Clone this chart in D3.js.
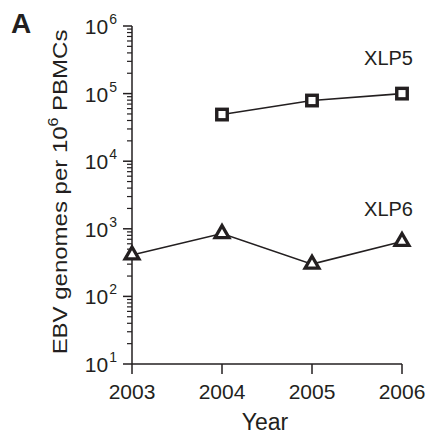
<!DOCTYPE html>
<html>
<head>
<meta charset="utf-8">
<script src="https://cdn.jsdelivr.net/npm/d3@7"></script>
<style>
  body { margin: 0; background: #fff; }
  text { font-family: "Liberation Sans", Arial, sans-serif; fill: #231f20; }
</style>
</head>
<body>
<div id="chart"></div>
<script>
// data
let years = [2003, 2004, 2005, 2006];
let xlp5Years = [2004, 2005, 2006];
let xlp5Values = [49000, 79000, 100000];
let xlp6Years = [2003, 2004, 2005, 2006];
let xlp6Values = [410, 850, 300, 650];
let yDecades = [1, 2, 3, 4, 5, 6];

let width = 427, height = 437;
let margin = {"top": 26, "bottom": 73, "left": 132, "right": 25};
let ink = "#231f20";

let svg = d3.select("#chart").append("svg")
    .attr("width", width)
    .attr("height", height);

let x = d3.scaleLinear().domain([2003, 2006]).range([margin.left, width - margin.right]);
let y = d3.scaleLog().domain([10, 1e6]).range([height - margin.bottom, margin.top]);

// y axis - minor ticks for 2..9 in each decade
let minor = [];
for (let d = 1; d < 6; d++) {
    for (let m = 2; m <= 9; m++) minor.push(m * Math.pow(10, d));
}
let yAxis = svg.append("g");
yAxis.append("line")
    .attr("x1", margin.left).attr("x2", margin.left)
    .attr("y1", y(1e6)).attr("y2", y(10))
    .attr("stroke", ink).attr("stroke-width", 1.5);
yAxis.selectAll(".minor").data(minor).enter().append("line")
    .attr("x1", margin.left - 5).attr("x2", margin.left)
    .attr("y1", d => y(d)).attr("y2", d => y(d))
    .attr("stroke", ink).attr("stroke-width", 1.2);
yAxis.selectAll(".major").data(yDecades).enter().append("line")
    .attr("x1", margin.left - 9).attr("x2", margin.left)
    .attr("y1", d => y(Math.pow(10, d))).attr("y2", d => y(Math.pow(10, d)))
    .attr("stroke", ink).attr("stroke-width", 1.5);

let yLabels = yAxis.selectAll(".ylab").data(yDecades).enter().append("text")
    .attr("x", 117)
    .attr("y", d => y(Math.pow(10, d)) + 8)
    .attr("text-anchor", "end")
    .style("font-size", "21px");
yLabels.append("tspan").text("10");
yLabels.append("tspan")
    .attr("dx", 1).attr("dy", -10)
    .style("font-size", "14px")
    .text(d => d);

// x axis
let xAxis = svg.append("g")
    .attr("transform", "translate(0," + y(10) + ")");
xAxis.append("line")
    .attr("x1", margin.left).attr("x2", x(2006))
    .attr("stroke", ink).attr("stroke-width", 1.5);
xAxis.selectAll(".xt").data(years).enter().append("line")
    .attr("x1", d => x(d)).attr("x2", d => x(d))
    .attr("y1", 0).attr("y2", 10)
    .attr("stroke", ink).attr("stroke-width", 1.5);
xAxis.selectAll(".xlab").data(years).enter().append("text")
    .attr("x", d => x(d))
    .attr("y", 35)
    .attr("text-anchor", "middle")
    .style("font-size", "21px")
    .text(d => d);

svg.append("text")
    .attr("x", 265)
    .attr("y", 430)
    .attr("text-anchor", "middle")
    .style("font-size", "23px")
    .text("Year");

// y axis title, stretched to the span it has in the figure
let yTitle = svg.append("text")
    .attr("text-anchor", "middle")
    .style("font-size", "21px");
yTitle.append("tspan").text("EBV genomes per 10");
yTitle.append("tspan").attr("dy", -9).style("font-size", "14px").text("6");
yTitle.append("tspan").attr("dy", 9).text(" PBMCs");
let titleLen = yTitle.node().getComputedTextLength();
let stretch = 325 / titleLen;
yTitle.attr("transform", "translate(67,192) rotate(-90) scale(" + stretch + ",1)");

svg.append("text")
    .attr("x", 11).attr("y", 33)
    .style("font-size", "28px")
    .style("font-weight", "bold")
    .text("A");

// series
let line = d3.line().x(d => x(d[0])).y(d => y(d[1]));
let xlp5 = xlp5Years.map((yr, i) => [yr, xlp5Values[i]]);
let xlp6 = xlp6Years.map((yr, i) => [yr, xlp6Values[i]]);

svg.append("path").datum(xlp5).attr("d", line)
    .attr("fill", "none").attr("stroke", ink).attr("stroke-width", 1.6);
svg.append("path").datum(xlp6).attr("d", line)
    .attr("fill", "none").attr("stroke", ink).attr("stroke-width", 1.6);

svg.selectAll(".sq").data(xlp5).enter().append("rect")
    .attr("x", d => x(d[0]) - 5.25)
    .attr("y", d => y(d[1]) - 5.25)
    .attr("width", 10.5).attr("height", 10.5)
    .attr("fill", "#fff").attr("stroke", ink).attr("stroke-width", 3.4);

let tri = d3.symbol().type(d3.symbolTriangle).size(82);
svg.selectAll(".tri").data(xlp6).enter().append("path")
    .attr("d", tri)
    .attr("transform", d => "translate(" + x(d[0]) + "," + y(d[1]) + ")")
    .attr("fill", "#fff").attr("stroke", ink).attr("stroke-width", 3.3)
    .attr("stroke-linejoin", "miter");

// series labels
svg.append("text").attr("x", 413).attr("y", 65)
    .attr("text-anchor", "end").style("font-size", "20px").text("XLP5");
svg.append("text").attr("x", 413).attr("y", 216)
    .attr("text-anchor", "end").style("font-size", "20px").text("XLP6");
</script>
</body>
</html>
